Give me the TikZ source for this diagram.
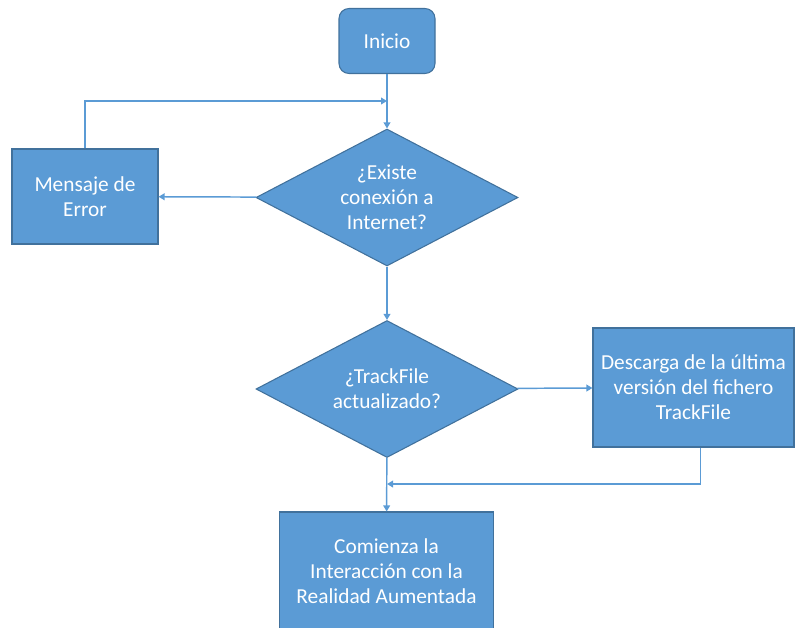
\documentclass[tikz,border=0pt]{standalone}
\usepackage{fontspec}
\setmainfont{Carlito}
\usepackage{tikz}
\usetikzlibrary{positioning,shapes.geometric,arrows.meta}
\definecolor{boxfill}{HTML}{5B9BD5}
\definecolor{boxline}{HTML}{41719C}
\definecolor{flowline}{HTML}{5B9BD5}

\begin{document}
\begin{tikzpicture}[x=0.75pt, y=-0.75pt,
	every node/.style={fill=boxfill, draw=boxline, line width=0.8pt, text=white, align=center,
		font=\fontsize{16}{18.75}\selectfont, inner sep=0pt},
	startbox/.style={rounded corners=7.5pt, minimum width=72pt, minimum height=48.75pt},
	procbox/.style={rectangle},
	decision/.style={diamond, aspect=1.9, minimum width=196.5pt, minimum height=102.75pt},
	flow/.style={draw=flowline, line width=1.1pt, -{Triangle[width=5pt, length=4.5pt]}}
	]
	\useasboundingbox (0,0) rectangle (797,628);

	\node[startbox] (start) at (387,41) {Inicio};
	\node[decision] (conn) at (387,197.5) {¿Existe\\conexión a\\Internet?};
	\node[procbox, minimum width=109.5pt, minimum height=71.25pt] (err) at (85,196.5) {Mensaje de\\Error};
	\node[decision] (track) at (387,389) {¿TrackFile\\actualizado?};
	\node[procbox, minimum width=150.75pt, minimum height=89.25pt] (down) at (693.5,387.5) {Descarga de la última\\versión del fichero\\TrackFile};
	\node[procbox, minimum width=160.5pt, minimum height=88.5pt] (ar) at (386.5,571) {Comienza la\\Interacción con la\\Realidad Aumentada};

	\coordinate (join1) at (387,101);
	\coordinate (join2) at (387,484);

	\draw[flow] (start) to (conn);
	\draw[flow] (conn) to (err);
	\draw[flow] (err.north) |- (join1);
	\draw[flow] (conn) to (track);
	\draw[flow] (track) to (down);
	\draw[flow] ([xshift=5.25pt]down.south) |- (join2);
	\draw[flow] (track) to (ar);
\end{tikzpicture}
\end{document}
